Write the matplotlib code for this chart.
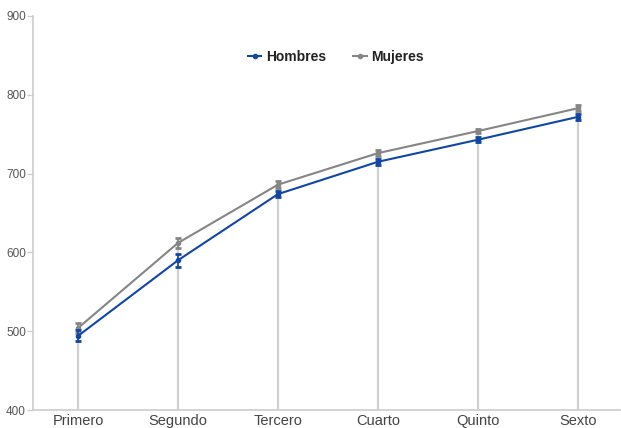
import matplotlib
matplotlib.use("Agg")
import matplotlib.pyplot as plt
import numpy as np
from matplotlib.lines import Line2D

plt.rcParams['font.family'] = ['Liberation Sans', 'DejaVu Sans']

categories = ["Primero", "Segundo", "Tercero", "Cuarto", "Quinto", "Sexto"]
hombres = [494, 590, 674, 715, 743, 772]
mujeres = [504, 612, 686, 726, 754, 783]
hombres_err = [7, 8, 4, 4, 3, 4]
mujeres_err = [6, 6, 4, 4, 3, 4]
yticks = [400, 500, 600, 700, 800, 900]

blue = "#0f46a8"
gray = "#858585"

fig = plt.figure(figsize=(6.21, 4.28), dpi=100)
ax = fig.add_axes([33/621, 18/428, 587/621, 394/428])
x = np.arange(len(categories))

top = np.maximum(np.array(hombres) + np.array(hombres_err), np.array(mujeres) + np.array(mujeres_err))
ax.vlines(x, 400, top, color="#d0d0d0", lw=1.6, zorder=1)

ax.errorbar(x, mujeres, yerr=mujeres_err, color=gray, lw=1.5, marker='o', ms=3,
            capsize=2.5, capthick=2, elinewidth=1.2, zorder=3, label="Mujeres")
ax.errorbar(x, hombres, yerr=hombres_err, color=blue, lw=1.5, marker='o', ms=3,
            capsize=2.5, capthick=2, elinewidth=1.2, zorder=4, label="Hombres")

ax.set_xlim(-0.45, 5.42)
ax.set_ylim(400, 900)
ax.set_yticks(yticks)
ax.set_xticks(x)
ax.set_xticklabels(categories, fontsize=10.5, color="#444444")
ax.tick_params(axis='y', labelsize=8.5, colors="#cccccc", labelcolor="#555555", length=4, width=1, pad=1)
ax.tick_params(axis='x', length=0, pad=3)
for s in ["top", "right"]:
    ax.spines[s].set_visible(False)
for s in ["left", "bottom"]:
    ax.spines[s].set_color("#cccccc")
    ax.spines[s].set_linewidth(1.2)

h1 = Line2D([], [], color=blue, lw=1.5, marker='o', ms=3)
h2 = Line2D([], [], color=gray, lw=1.5, marker='o', ms=3)
leg = ax.legend([h1, h2], ["Hombres", "Mujeres"], loc='upper center', bbox_to_anchor=(0.516, 0.945),
                ncol=2, frameon=False, handlelength=1.0, handletextpad=0.35, columnspacing=1.9,
                prop={'weight': 'bold', 'size': 10})
for t in leg.get_texts():
    t.set_color("#222222")

fig.savefig("out.png", dpi=100)
